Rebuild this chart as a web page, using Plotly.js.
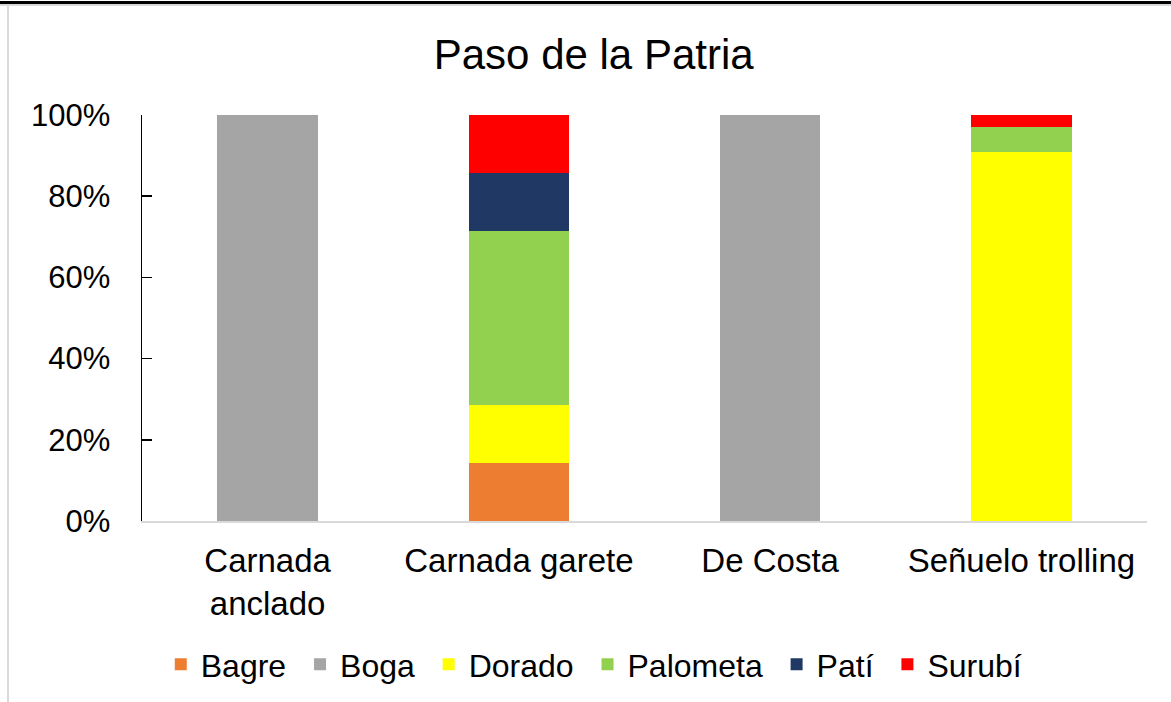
<!DOCTYPE html>
<html>
<head>
<meta charset="utf-8">
<script src="https://cdn.plot.ly/plotly-3.0.1.min.js"></script>
<style>
  html, body { margin: 0; padding: 0; background: #fff; }
  #wrap { position: relative; width: 1171px; height: 702px; overflow: hidden; }
  #chart { position: absolute; left: 0; top: 0; width: 1171px; height: 702px; }
  .ln { position: absolute; pointer-events: none; }
</style>
</head>
<body>
<div id="wrap">
  <div id="chart"></div>
  <div class="ln" style="left:0;top:1px;width:1171px;height:3px;background:#000;"></div>
  <div class="ln" style="left:0;top:4px;width:1171px;height:2px;background:#d9d9d9;"></div>
  <div class="ln" style="left:7px;top:4px;width:2px;height:698px;background:#d9d9d9;"></div>
</div>
<script>
const categories = ['Carnada<br>anclado', 'Carnada garete', 'De Costa', 'Señuelo trolling'];
const seriesNames = ['Bagre', 'Boga', 'Dorado', 'Palometa', 'Patí', 'Surubí'];
const bagre    = [0, 14.29, 0, 0];
const boga     = [100, 0, 100, 0];
const dorado   = [0, 14.29, 0, 90.91];
const palometa = [0, 42.86, 0, 6.06];
const pati     = [0, 14.29, 0, 0];
const surubi   = [0, 14.29, 0, 3.03];
const yTicks = [0, 20, 40, 60, 80, 100];

const seriesValues = [bagre, boga, dorado, palometa, pati, surubi];
const colors = ['#ED7D31', '#A5A5A5', '#FFFF00', '#92D050', '#203864', '#FF0000'];

const traces = seriesNames.map((n, i) => ({
  type: 'bar',
  name: n + '\u00a0',
  x: categories,
  y: seriesValues[i],
  marker: { color: colors[i], line: { width: 0 } },
  hoverinfo: 'name+y'
}));

const font = 'Liberation Sans, Arial, sans-serif';
const layout = {
  width: 1171, height: 702,
  barmode: 'stack',
  bargap: 0.6,
  paper_bgcolor: 'rgba(0,0,0,0)',
  plot_bgcolor: 'rgba(0,0,0,0)',
  margin: { l: 142, r: 24, t: 115, b: 180 },
  font: { family: font, color: '#000' },
  title: {
    text: 'Paso de la Patria',
    font: { family: font, size: 42, color: '#000' },
    xref: 'container', yref: 'container',
    x: 0.507, xanchor: 'center',
    y: 0.922, yanchor: 'middle'
  },
  xaxis: {
    type: 'category',
    showline: true, linecolor: '#d9d9d9', linewidth: 1.5,
    ticks: '', showgrid: false, zeroline: false,
    tickfont: { family: font, size: 33, color: '#000' },
    ticklabelstandoff: 10
  },
  yaxis: {
    range: [0, 100],
    tickvals: yTicks,
    ticktext: yTicks.map(v => v + '%'),
    showline: true, linecolor: '#000', linewidth: 1.5,
    ticks: 'inside', ticklen: 10, tickwidth: 1.5, tickcolor: '#000',
    showgrid: false, zeroline: false,
    tickfont: { family: font, size: 31, color: '#000' },
    ticklabelstandoff: 24
  },
  showlegend: true,
  legend: {
    orientation: 'h',
    x: 0.454, xanchor: 'center',
    y: -0.35, yanchor: 'middle',
    font: { family: font, size: 32, color: '#000' },
    traceorder: 'normal',
    itemwidth: 30
  }
};

Plotly.newPlot('chart', traces, layout, { displayModeBar: false, staticPlot: true });
</script>
</body>
</html>
